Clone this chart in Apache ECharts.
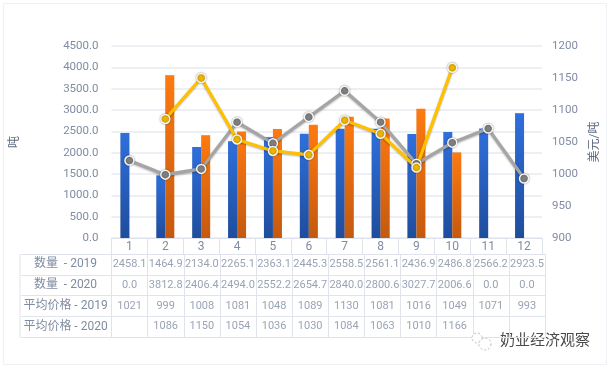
<!DOCTYPE html>
<html><head><meta charset="utf-8">
<style>html,body{margin:0;padding:0;background:#fff}#c{width:609px;height:368px}</style>
<script src="https://cdn.jsdelivr.net/npm/echarts@6/dist/echarts.min.js"></script>
</head><body><div id="c"></div>
<script>
const months = ['1','2','3','4','5','6','7','8','9','10','11','12'];
const qty2019 = [2458.1,1464.9,2134.0,2265.1,2363.1,2445.3,2558.5,2561.1,2436.9,2486.8,2566.2,2923.5];
const qty2020 = [0.0,3812.8,2406.4,2494.0,2552.2,2654.7,2840.0,2800.6,3027.7,2006.6,0.0,0.0];
const price2019 = [1021,999,1008,1081,1048,1089,1130,1081,1016,1049,1071,993];
const price2020 = [null,1086,1150,1054,1036,1030,1084,1063,1010,1166,null,null];
const rowNames = ['数量  - 2019','数量  - 2020','平均价格 - 2019','平均价格 - 2020'];
const TXT='#7f8ca1', FONT='Roboto,"Noto Sans CJK SC",sans-serif', GRID='#e6eaf0', CELL='#dfe4ec';

const cells=[];
months.forEach((m,i)=>{
  cells.push([i,0,qty2019[i].toFixed(1)]);
  cells.push([i,1,qty2020[i].toFixed(1)]);
  if(price2019[i]!==null) cells.push([i,2,String(price2019[i])]);
  if(price2020[i]!==null) cells.push([i,3,String(price2020[i])]);
});
const grad=(a,b)=>({type:'linear',x:0,y:0,x2:0,y2:1,colorStops:[{offset:0,color:a},{offset:1,color:b}]});
const lineS=(name,data,col,mark)=>({name,type:'line',xAxisIndex:0,yAxisIndex:1,data,symbol:'circle',symbolSize:9,z:5,
  lineStyle:{color:col,width:3.2,shadowColor:'rgba(0,0,0,.3)',shadowBlur:2,shadowOffsetY:1},
  itemStyle:{color:mark,borderColor:'#f4f4f4',borderWidth:1.5,shadowColor:'rgba(0,0,0,.35)',shadowBlur:2}});

const chart=echarts.init(document.getElementById('c'),null,{renderer:'canvas'});
chart.setOption({
  animation:false,backgroundColor:'#fff',
  textStyle:{fontFamily:FONT},
  graphic:[
    {type:'rect',z:-1,shape:{x:3.5,y:3.5,width:603,height:361},style:{fill:'none',stroke:'#eef1f6',lineWidth:1}},
    {type:'line',shape:{x1:20,y1:254,x2:20,y2:337},style:{stroke:CELL,lineWidth:1}},
    {type:'text',left:500,top:332,style:{text:'奶业经济观察',fill:'#4a4a4a',font:'15px "Noto Sans CJK SC"',shadowColor:'rgba(0,0,0,.35)',shadowBlur:1}},
    {type:'circle',z:20,shape:{cx:477,cy:338,r:5},style:{fill:'#fff',stroke:'#bdbdbd',lineWidth:1,lineDash:[2,2]}},
    {type:'circle',z:20,shape:{cx:485,cy:344,r:6},style:{fill:'#fff',stroke:'#bdbdbd',lineWidth:1,lineDash:[2,2]}}
  ],
  grid:[
    {left:111.5,top:46,width:433.5,height:192},
    {left:111.5,top:254,width:433.5,height:83}
  ],
  xAxis:[
    {type:'category',gridIndex:0,data:months,axisLine:{lineStyle:{color:CELL}},
     axisTick:{show:true,length:16,lineStyle:{color:CELL}},
     axisLabel:{color:TXT,fontSize:12,margin:3,fontFamily:FONT}},
    {type:'category',gridIndex:1,data:months,position:'top',axisLine:{lineStyle:{color:CELL}},axisTick:{show:false},axisLabel:{show:false},
     splitLine:{show:true,lineStyle:{color:CELL}}}
  ],
  yAxis:[
    {type:'value',gridIndex:0,min:0,max:4500,interval:500,name:'吨',nameLocation:'middle',nameGap:90,nameRotate:90,
     nameTextStyle:{color:'#5f6b80',fontSize:12,fontFamily:FONT},
     axisLine:{show:false},axisTick:{show:false},
     axisLabel:{color:TXT,fontSize:11.5,margin:13,formatter:v=>v.toFixed(1),fontFamily:FONT},
     splitLine:{lineStyle:{color:GRID,width:1.5}}},
    {type:'value',gridIndex:0,min:900,max:1200,interval:50,position:'right',name:'美元/吨',nameLocation:'middle',nameGap:47,nameRotate:90,
     nameTextStyle:{color:'#5f6b80',fontSize:12,fontFamily:FONT},
     axisLine:{show:false},axisTick:{show:false},
     axisLabel:{color:TXT,fontSize:11.5,margin:10,formatter:v=>String(v),fontFamily:FONT},splitLine:{show:false}},
    {type:'category',gridIndex:1,data:rowNames,inverse:true,axisLine:{lineStyle:{color:CELL}},
     axisTick:{show:true,length:91,lineStyle:{color:CELL}},
     axisLabel:{color:TXT,fontSize:12,align:'center',margin:46,fontFamily:FONT},
     splitLine:{show:true,lineStyle:{color:CELL}}}
  ],
  series:[
    {name:'数量 - 2019',type:'bar',xAxisIndex:0,yAxisIndex:0,data:qty2019,barWidth:9,barGap:'0%',z:2,
     itemStyle:{color:grad('#2f6fdc','#1f4d9c'),shadowColor:'rgba(0,0,0,.2)',shadowBlur:1}},
    {name:'数量 - 2020',type:'bar',xAxisIndex:0,yAxisIndex:0,data:qty2020,barWidth:9,barGap:'0%',z:2,
     itemStyle:{color:grad('#ff7a10','#c4590f'),shadowColor:'rgba(0,0,0,.2)',shadowBlur:1}},
    lineS('平均价格 - 2019',price2019,'#a5a5a5','#7f7f7f'),
    lineS('平均价格 - 2020',price2020,'#ffc000','#edb400'),
    {type:'scatter',xAxisIndex:1,yAxisIndex:2,data:cells,symbolSize:0,silent:true,
     label:{show:true,position:'inside',color:TXT,fontSize:11,fontFamily:FONT,formatter:p=>p.data[2]},
     encode:{x:0,y:1}}
  ]
});
</script></body></html>
